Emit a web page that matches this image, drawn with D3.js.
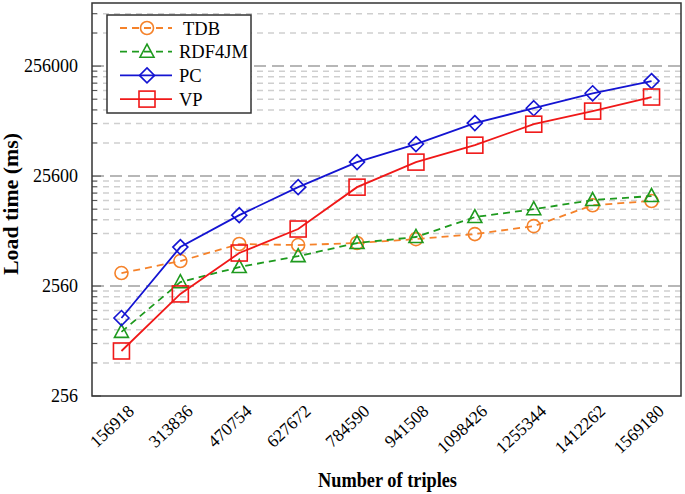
<!DOCTYPE html>
<html>
<head>
<meta charset="utf-8">
<script src="https://cdn.jsdelivr.net/npm/d3@7"></script>
<style>
  body { margin: 0; background: #fff; }
  text { font-family: "Liberation Serif", "Times New Roman", serif; fill: #000; }
</style>
</head>
<body>
<div id="chart"></div>
<script>
// Data
const triples = ["156918", "313836", "470754", "627672", "784590", "941508", "1098426", "1255344", "1412262", "1569180"];
const tdb    = [3360, 4320, 6170, 6040, 6300, 6840, 7600, 8980, 13900, 15200];
const rdf4jm = [980, 2780, 3810, 4790, 6300, 7150, 10850, 12800, 15500, 16850];
const pc     = [1310, 5790, 11300, 20300, 34300, 50000, 77600, 106000, 145000, 187000];
const vp     = [657, 2170, 5110, 8450, 20300, 34300, 48900, 75900, 99800, 134000];
const yTicks = [256, 2560, 25600, 256000];

const series = [
    { name: "TDB",    values: tdb,    color: "#f5822a", dash: "7,5", marker: "circle" },
    { name: "RDF4JM", values: rdf4jm, color: "#1e9a1e", dash: "7,5", marker: "triangle" },
    { name: "PC",     values: pc,     color: "#1414d2", dash: null,  marker: "diamond" },
    { name: "VP",     values: vp,     color: "#f01818", dash: null,  marker: "square" }
];

const width = 685, height = 494;
const margin = { top: 3, right: 4, bottom: 98, left: 92 };
const innerW = width - margin.left - margin.right;
const innerH = height - margin.top - margin.bottom;

const svg = d3.select("#chart").append("svg")
    .attr("width", width)
    .attr("height", height);

const g = svg.append("g")
    .attr("transform", `translate(${margin.left},${margin.top})`);

const x = d3.scalePoint()
    .domain(triples)
    .range([0, innerW])
    .padding(0.5);

const y = d3.scaleLog()
    .domain([256, 960000])
    .range([innerH, 0]);

// Minor grid lines: 2..9 times each decade
const minor = [];
yTicks.forEach(t => {
    for (let k = 2; k <= 9; k++) {
        if (t * k < y.domain()[1]) minor.push(t * k);
    }
});

g.selectAll(".minor")
    .data(minor)
    .enter().append("line")
    .attr("class", "minor")
    .attr("x1", 0)
    .attr("x2", innerW)
    .attr("y1", d => y(d))
    .attr("y2", d => y(d))
    .attr("stroke", "#cfcfcf")
    .attr("stroke-width", 1.5)
    .attr("stroke-dasharray", "6,5");

g.selectAll(".major")
    .data(yTicks.slice(1))
    .enter().append("line")
    .attr("class", "major")
    .attr("x1", 0)
    .attr("x2", innerW)
    .attr("y1", d => y(d))
    .attr("y2", d => y(d))
    .attr("stroke", "#a0a0a0")
    .attr("stroke-width", 1.5)
    .attr("stroke-dasharray", "12,6");

// Y axis
const yAxis = g.append("g")
    .call(d3.axisLeft(y).tickValues(yTicks).tickFormat(d3.format("d")).tickSize(0).tickPadding(14));
yAxis.select(".domain").remove();
yAxis.selectAll("text").style("font-size", "18px");

// inner tick marks on the left axis
g.selectAll(".ytick")
    .data(yTicks.concat(minor))
    .enter().append("line")
    .attr("x1", 0)
    .attr("x2", d => yTicks.includes(d) ? 9 : 5)
    .attr("y1", d => y(d))
    .attr("y2", d => y(d))
    .attr("stroke", "#555")
    .attr("stroke-width", 1);

// X axis
const xAxis = g.append("g")
    .attr("transform", `translate(0,${innerH})`)
    .call(d3.axisBottom(x).tickSize(0).tickPadding(8));
xAxis.select(".domain").remove();
xAxis.selectAll("text")
    .style("font-size", "17.5px")
    .style("text-anchor", "end")
    .attr("dx", "-0.1em")
    .attr("dy", "0.75em")
    .attr("transform", "rotate(-43)");

// Plot border
g.append("rect")
    .attr("width", innerW)
    .attr("height", innerH)
    .attr("fill", "none")
    .attr("stroke", "#333")
    .attr("stroke-width", 1.5);

// Marker drawing
function drawMarker(sel, type, color) {
    if (type === "circle") {
        sel.append("circle").attr("r", 6.5);
    } else if (type === "triangle") {
        sel.append("path").attr("d", "M0,-7.5L7,5.5L-7,5.5Z");
    } else if (type === "diamond") {
        sel.append("path").attr("d", "M0,-7.5L7.5,0L0,7.5L-7.5,0Z");
    } else {
        sel.append("rect").attr("x", -8).attr("y", -8).attr("width", 16).attr("height", 16);
    }
    sel.selectAll("*")
        .attr("fill", "none")
        .attr("stroke", color)
        .attr("stroke-width", 1.6);
}

const line = d3.line()
    .x((d, i) => x(triples[i]))
    .y(d => y(d));

series.forEach(s => {
    g.append("path")
        .datum(s.values)
        .attr("d", line)
        .attr("fill", "none")
        .attr("stroke", s.color)
        .attr("stroke-width", 1.8)
        .attr("stroke-dasharray", s.dash);

    g.selectAll(".m-" + s.name)
        .data(s.values)
        .enter().append("g")
        .attr("transform", (d, i) => `translate(${x(triples[i])},${y(d)})`)
        .each(function() { drawMarker(d3.select(this), s.marker, s.color); });
});

// Legend
const legend = svg.append("g")
    .attr("transform", "translate(107,15)");

legend.append("rect")
    .attr("width", 144)
    .attr("height", 98)
    .attr("fill", "#fff")
    .attr("stroke", "#333")
    .attr("stroke-width", 1.5);

const legendItems = legend.selectAll(".legend-item")
    .data(series)
    .enter().append("g")
    .attr("transform", (d, i) => `translate(0,${13 + i * 23.7})`);

legendItems.append("line")
    .attr("x1", 13)
    .attr("x2", 65)
    .attr("stroke", d => d.color)
    .attr("stroke-width", 1.8)
    .attr("stroke-dasharray", d => d.dash);

legendItems.append("g")
    .attr("transform", "translate(40,0)")
    .each(function(d) { drawMarker(d3.select(this), d.marker, d.color); });

legendItems.append("text")
    .attr("x", d => d.name === "TDB" ? 76 : 72)
    .attr("y", 6.5)
    .style("font-size", "18.5px")
    .text(d => d.name);

// Axis titles
svg.append("text")
    .attr("x", 318)
    .attr("y", 487)
    .attr("textLength", 139)
    .attr("lengthAdjust", "spacingAndGlyphs")
    .style("font-size", "20px")
    .style("font-weight", "bold")
    .text("Number of triples");

svg.append("text")
    .attr("transform", "rotate(-90)")
    .attr("x", -275)
    .attr("y", 18)
    .attr("textLength", 142)
    .attr("lengthAdjust", "spacingAndGlyphs")
    .style("font-size", "20px")
    .style("font-weight", "bold")
    .text("Load time (ms)");
</script>
</body>
</html>
